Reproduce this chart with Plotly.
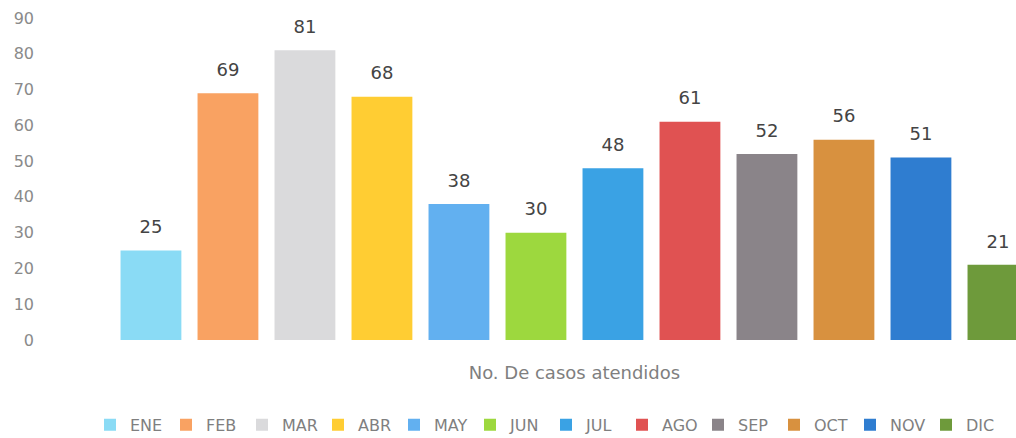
import plotly.graph_objects as go

categoria = "No. De casos atendidos"
meses = ["ENE", "FEB", "MAR", "ABR", "MAY", "JUN", "JUL", "AGO", "SEP", "OCT", "NOV", "DIC"]
casos = [25, 69, 81, 68, 38, 30, 48, 61, 52, 56, 51, 21]
colores = ["#8ADBF5", "#F9A262", "#DADADC", "#FFCD33", "#62B0F0", "#9DD83E",
           "#3AA2E4", "#E05252", "#8A8489", "#D8913F", "#2F7DD0", "#6E9A3B"]

fig = go.Figure()

for mes, valor, color in zip(meses, casos, colores):
    fig.add_trace(go.Bar(
        x=[categoria],
        y=[valor],
        name=mes,
        marker=dict(color=color, line=dict(width=0)),
        text=[valor],
        # small empty second line lifts the label a little above the bar
        texttemplate="<span style='font-size:18px'>%{text}</span><br><span style='font-size:1px'> </span>",
        textposition="outside",
        cliponaxis=False,
        textfont=dict(size=11, color="#444444"),
    ))

fig.update_layout(
    width=1016,
    height=438,
    barmode="group",
    bargap=0.2,
    bargroupgap=0.21,
    paper_bgcolor="white",
    plot_bgcolor="white",
    font=dict(family="DejaVu Sans, sans-serif", size=15, color="#7F7F7F"),
    margin=dict(l=45, r=0, t=18, b=98),
    showlegend=True,
    xaxis=dict(
        range=[-0.4584, 0.3823],
        showgrid=False,
        showline=False,
        zeroline=False,
        ticks="",
        ticklabelstandoff=20,
        tickfont=dict(size=18, color="#7F7F7F"),
    ),
    yaxis=dict(
        range=[0, 90],
        dtick=10,
        showgrid=False,
        showline=False,
        zeroline=False,
        ticks="",
        ticklabelstandoff=10,
        tickfont=dict(size=16, color="#8A8A8A"),
    ),
    legend=dict(
        orientation="h",
        xref="container",
        yref="container",
        x=90 / 1016,
        xanchor="left",
        y=0.03,
        yanchor="middle",
        entrywidth=31,
        entrywidthmode="pixels",
        font=dict(size=16, color="#7F7F7F"),
        traceorder="normal",
    ),
)

# page body margin would shift the 1016x438 figure out of the window
fig.write_html("out.html", config={"displayModeBar": False},
               post_script="document.body.style.margin='0';")
